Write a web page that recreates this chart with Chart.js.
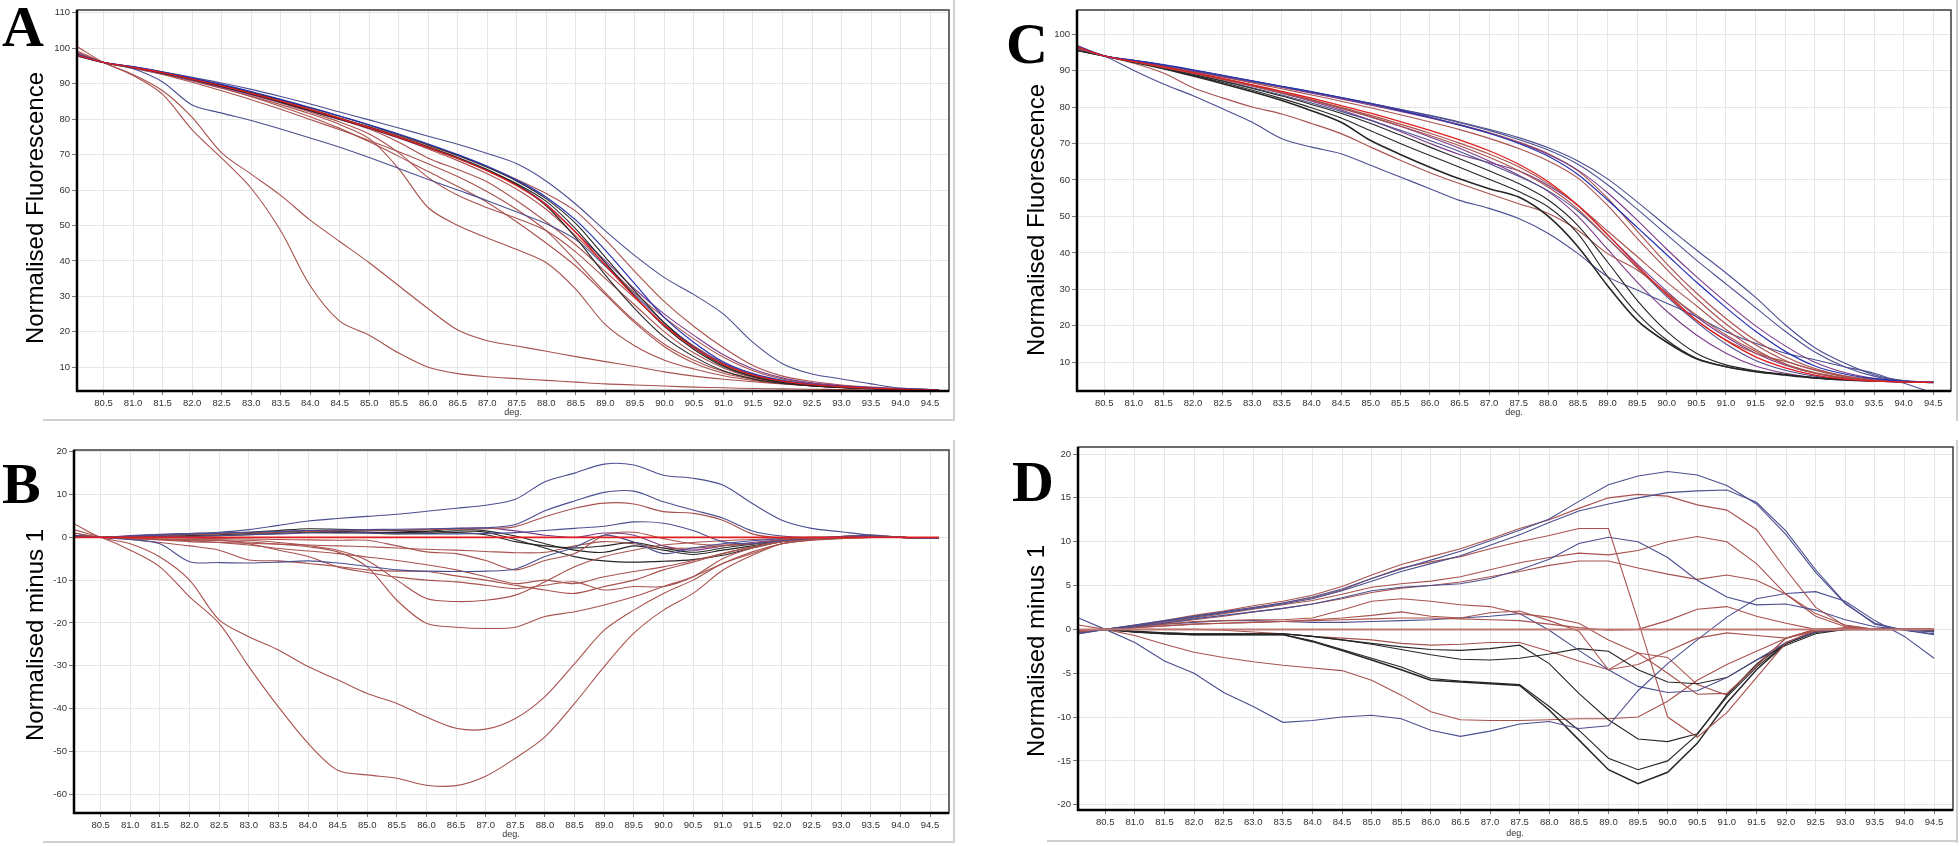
<!DOCTYPE html>
<html>
<head>
<meta charset="utf-8">
<script src="https://cdn.jsdelivr.net/npm/chart.js@4.4.1/dist/chart.umd.min.js"></script>
<style>
  body { margin: 0; background: #fff; }
  #page { position: relative; width: 1960px; height: 846px; overflow: hidden; background: #fff; }
  .box { position: absolute; }
  .letter { position: absolute; font: bold 58px "Liberation Serif", "Times New Roman", serif; line-height: 58px; color: #000; }
  .ytitle { position: absolute; width: 400px; height: 30px; line-height: 30px; text-align: center;
            font: 24px "Liberation Sans", Arial, sans-serif; color: #000; transform: rotate(-90deg); white-space: nowrap; }
  .deg { position: absolute; width: 60px; text-align: center; font: 9px "Liberation Sans", Arial, sans-serif; color: #333; }
  .rule { position: absolute; background: #d0d0d0; }
</style>
</head>
<body>
<div id="page">
  <div class="box" style="left:0;top:0"><canvas id="cA" width="960" height="423"></canvas></div>
  <div class="box" style="left:0;top:423px"><canvas id="cB" width="960" height="423"></canvas></div>
  <div class="box" style="left:960px;top:0"><canvas id="cC" width="1000" height="423"></canvas></div>
  <div class="box" style="left:960px;top:423px"><canvas id="cD" width="1000" height="423"></canvas></div>

  <div class="rule" style="left:953px;top:0;width:2px;height:421px"></div>
  <div class="rule" style="left:43px;top:419px;width:912px;height:2px"></div>
  <div class="rule" style="left:953px;top:440px;width:2px;height:403px"></div>
  <div class="rule" style="left:43px;top:841px;width:912px;height:2px"></div>
  <div class="rule" style="left:1956px;top:0;width:2px;height:421px"></div>
  <div class="rule" style="left:1956px;top:440px;width:2px;height:403px"></div>
  <div class="rule" style="left:1047px;top:840px;width:911px;height:2px"></div>

  <div class="letter" style="left:2px;top:-2px">A</div>
  <div class="letter" style="left:2px;top:455px">B</div>
  <div class="letter" style="left:1006px;top:15px">C</div>
  <div class="letter" style="left:1012px;top:453px">D</div>

  <div class="ytitle" style="left:-164px;top:193px">Normalised Fluorescence</div>
  <div class="ytitle" style="left:-164px;top:620px">Normalised minus 1</div>
  <div class="ytitle" style="left:837px;top:205px">Normalised Fluorescence</div>
  <div class="ytitle" style="left:837px;top:636px">Normalised minus 1</div>

  <div class="deg" style="left:483px;top:407px">deg.</div>
  <div class="deg" style="left:481px;top:829px">deg.</div>
  <div class="deg" style="left:1484px;top:407px">deg.</div>
  <div class="deg" style="left:1485px;top:828px">deg.</div>
</div>

<script>
// ---------- x positions (deg.) and tick labels ----------
const degAB = [80.05, 80.5, 81, 81.5, 82, 82.5, 83, 83.5, 84, 84.5, 85, 85.5, 86, 86.5, 87, 87.5,
               88, 88.5, 89, 89.5, 90, 90.5, 91, 91.5, 92, 92.5, 93, 93.5, 94, 94.5, 94.65];
const degCD = [80.05, 80.5, 81, 81.5, 82, 82.5, 83, 83.5, 84, 84.5, 85, 85.5, 86, 86.5, 87, 87.5,
               88, 88.5, 89, 89.5, 90, 90.5, 91, 91.5, 92, 92.5, 93, 93.5, 94, 94.5];
const degTicks = [80.5, 81, 81.5, 82, 82.5, 83, 83.5, 84, 84.5, 85, 85.5, 86, 86.5, 87, 87.5,
                  88, 88.5, 89, 89.5, 90, 90.5, 91, 91.5, 92, 92.5, 93, 93.5, 94, 94.5];
const ticksA = [10, 20, 30, 40, 50, 60, 70, 80, 90, 100, 110];
const ticksB = [-60, -50, -40, -30, -20, -10, 0, 10, 20];
const ticksC = [10, 20, 30, 40, 50, 60, 70, 80, 90, 100];
const ticksD = [-20, -15, -10, -5, 0, 5, 10, 15, 20];

// ---------- panel A : normalised fluorescence ----------
const A_navyTop  = [98.3, 96, 94.8, 93.4, 91.8, 90.2, 88.4, 86.4, 84.3, 82, 79.8, 77.5, 75.2, 72.9, 70.3, 67.4, 62.5, 56, 48.5, 41.5, 35.3, 30.5, 25, 17, 11, 8.1, 6.7, 5.3, 4.1, 3.7, 3.7];
const A_black1   = [98, 96, 94.7, 93.2, 91.5, 89.6, 87.6, 85.5, 83.2, 80.8, 78.3, 75.6, 72.8, 69.8, 66.4, 62.5, 57.5, 50.5, 41, 31.5, 22.5, 15.5, 10.5, 7.5, 5.8, 4.9, 4.4, 4, 3.8, 3.6, 3.6];
const A_black2   = [98.2, 96, 94.6, 93.1, 91.3, 89.3, 87.2, 85, 82.6, 80.2, 77.7, 75, 72.2, 69.2, 65.8, 61.5, 55.5, 46.5, 36, 26.5, 18.5, 13, 9, 6.7, 5.4, 4.7, 4.2, 3.9, 3.7, 3.6, 3.6];
const A_black3   = [97.8, 96, 94.6, 93, 91.2, 89.2, 87.1, 84.8, 82.4, 80, 77.5, 74.8, 72, 69, 65.6, 61.8, 56.8, 49, 39.5, 30, 21.5, 15, 10.2, 7.3, 5.7, 4.8, 4.3, 4, 3.8, 3.6, 3.6];
const A_blue     = [98, 96, 94.8, 93.3, 91.6, 89.8, 87.8, 85.6, 83.3, 80.9, 78.4, 75.8, 73, 70, 66.7, 62.8, 58, 51.5, 43, 33.5, 24, 17, 11.5, 8.2, 6.3, 5.2, 4.6, 4.2, 3.9, 3.7, 3.7];
const A_purple   = [98.5, 96, 94.5, 92.9, 91, 89, 86.9, 84.7, 82.3, 79.9, 77.4, 74.7, 71.9, 68.9, 65.5, 61.5, 56, 48, 40, 32, 25, 19, 13.5, 9.5, 7, 5.6, 4.8, 4.3, 3.9, 3.7, 3.7];
const A_red1     = [98.8, 96, 94.5, 92.9, 91.1, 89.2, 87.2, 85, 82.7, 80.3, 77.9, 75.3, 72.6, 69.7, 66.5, 63, 59, 54, 46, 37, 28.5, 21.5, 15.5, 10.5, 7.5, 6, 5, 4.4, 4, 3.7, 3.7];
const A_navyDip  = [98, 96, 94.2, 90.5, 84, 81.7, 79.6, 77.2, 74.7, 72.1, 69.2, 66.1, 63, 60, 57, 53.8, 50.5, 46, 38.5, 30.5, 22.5, 15.8, 11, 7.8, 6, 5, 4.4, 4, 3.8, 3.6, 3.6];
const A_red2     = [98.5, 96, 94.5, 92.9, 91.1, 89.1, 87, 84.6, 82, 79.2, 75.8, 70.5, 63.5, 58.5, 55, 52, 48.5, 42.5, 35, 27.5, 20, 14, 9.8, 7.1, 5.6, 4.8, 4.3, 4, 3.8, 3.6, 3.6];
const A_red3     = [98.6, 96, 94.4, 92.7, 90.8, 88.7, 86.5, 84.1, 81.5, 78.5, 74.5, 66, 55, 50, 46.5, 43.2, 39.5, 32, 22, 16, 12, 9.5, 7.6, 6.3, 5.4, 4.7, 4.3, 4, 3.8, 3.6, 3.6];
const A_red4     = [100.5, 96, 92.6, 88, 80.5, 70.5, 64.5, 58.5, 51.5, 45.5, 39.5, 33, 26.5, 20.5, 17.5, 16, 14.5, 13, 11.6, 10.2, 8.7, 7.5, 6.6, 5.9, 5.3, 4.8, 4.4, 4.1, 3.8, 3.6, 3.6];
const A_red5     = [99.2, 96, 92.3, 87, 77, 69, 60.5, 48.5, 33, 23, 19, 14, 10, 8.2, 7.3, 6.8, 6.3, 5.8, 5.3, 5, 4.7, 4.4, 4.2, 4, 3.9, 3.8, 3.7, 3.6, 3.6, 3.5, 3.5];
const A_red6     = [98.4, 96, 94.4, 92.6, 90.4, 88, 85.5, 82.8, 79.9, 77, 74, 70.8, 67.4, 63.8, 59.5, 54.5, 48.5, 40, 31, 23, 16.5, 12, 8.8, 6.8, 5.6, 4.8, 4.3, 4, 3.8, 3.6, 3.6];
const A_red7     = [98.2, 96, 94.6, 92.9, 91, 88.8, 86.3, 83.6, 80.7, 77.4, 73.6, 69.5, 65.2, 61, 56.5, 51, 45, 38.5, 30.5, 22.5, 15.8, 11.2, 8.3, 6.6, 5.5, 4.8, 4.3, 4, 3.8, 3.6, 3.6];
const A_red8     = [98.6, 96, 94.6, 93, 91.2, 89.2, 87.1, 84.8, 82.4, 79.9, 77.2, 73.5, 69, 65.8, 62.3, 57, 51, 44.5, 37, 29.5, 22, 16, 11.2, 8, 6.2, 5.2, 4.5, 4.1, 3.8, 3.6, 3.6];
const A_brightRd = [98, 96, 94.6, 93.1, 91.3, 89.4, 87.3, 85.1, 82.7, 80.2, 77.6, 74.9, 72, 68.9, 65.4, 61.2, 55.8, 48, 38.8, 29.8, 21.8, 15.5, 10.8, 7.8, 6.1, 5.1, 4.5, 4.1, 3.8, 3.6, 3.6];
const A_red9     = [98.3, 96, 94.7, 93.2, 91.5, 89.6, 87.5, 85.3, 82.9, 80.3, 77.6, 74.7, 71.6, 68.3, 64.6, 60.2, 54.5, 47, 39, 31, 24, 18, 12.8, 9, 6.7, 5.4, 4.7, 4.2, 3.9, 3.7, 3.7];

// ---------- panel B : normalised minus 1 ----------
const B_navyTop  = [0.3, 0, 0.3, 0.6, 0.9, 1.2, 1.8, 2.8, 3.8, 4.4, 4.9, 5.4, 6.1, 6.8, 7.5, 8.9, 13, 15, 17.1, 16.9, 14.5, 13.8, 12.2, 7.9, 4, 2.1, 1.3, 0.5, 0, -0.2, -0.2];
const B_navy11   = [0.2, 0, 0.2, 0.5, 0.8, 1, 1.2, 1.4, 1.6, 1.7, 1.8, 1.9, 2, 2.1, 2.2, 3, 6.2, 8.5, 10.5, 10.8, 8.3, 6.4, 4.5, 1.5, 0.3, 0, 0.2, 0.5, 0, -0.2, -0.2];
const B_red8     = [0.2, 0, 0.2, 0.4, 0.6, 0.8, 1, 1.2, 1.4, 1.5, 1.6, 1.7, 1.8, 1.9, 2, 2.5, 4.8, 6.8, 8, 7.8, 6, 5.6, 4, 0.8, -0.2, -0.3, 0.2, 0.6, 0, -0.2, -0.2];
const B_navy3    = [0.2, 0, 0, 0.1, 0.2, 0.4, 0.6, 0.8, 1, 1, 1, 0.9, 0.8, 0.8, 0.9, 1.1, 1.6, 2.1, 2.6, 3.6, 3.3, 1.6, -1, -1.5, -0.8, -0.3, 0, 0.3, 0, -0.2, -0.2];
const B_navyDip  = [0.5, 0, -0.5, -1.5, -5.7, -5.9, -6, -5.8, -5.5, -6, -6.8, -7.6, -7.9, -8, -7.9, -7.4, -4.5, -2.3, 0.5, -1.1, -3.8, -2.5, -1.5, -0.8, -0.3, 0, 0, 0.3, 0, -0.2, -0.2];
const B_red15    = [1, 0, -0.2, -0.4, -0.5, -0.6, -0.7, -1.2, -1.9, -3, -5.4, -10, -14.3, -15, -14.7, -13.5, -10.4, -6.9, -4.5, -3, -1.8, -1.2, -0.8, -0.5, -0.3, -0.1, 0, 0.2, 0, -0.2, -0.2];
const B_red21    = [1, 0, -0.2, -0.4, -0.6, -0.8, -1.1, -1.6, -2.2, -3.4, -6.9, -14.7, -20.1, -21, -21.3, -21, -18.5, -17.4, -15.8, -13.9, -11.5, -9.2, -6.1, -3.4, -1.5, -0.7, -0.3, 0, 0, -0.2, -0.2];
const B_red45    = [3.2, 0, -1.5, -4.6, -10, -19.3, -23.2, -26.3, -30.2, -33.3, -36.5, -38.8, -42, -44.6, -44.8, -42.3, -37.2, -29.5, -21.7, -17, -13.1, -10, -6.1, -3.8, -1.5, -0.6, -0.2, 0, 0, -0.2, -0.2];
const B_red58    = [1.8, 0, -3, -6.9, -13.9, -20.1, -30.2, -39.6, -48.1, -54.4, -55.5, -56.3, -57.9, -58, -55.8, -51.6, -46.6, -38.8, -30.2, -22.4, -17, -13.1, -7.7, -4.2, -1.5, -0.6, -0.2, 0, 0, -0.2, -0.2];
const B_red13a   = [0.5, 0, -0.5, -1.2, -2, -3, -5.3, -5.5, -6.1, -6.8, -7.6, -7.9, -8, -9, -10, -11.2, -12.3, -13.1, -11.5, -10, -7.6, -5.8, -3.8, -2.3, -1, -0.4, 0, 0.2, 0, -0.2, -0.2];
const B_red12b   = [0.5, 0, -0.3, -0.5, -0.6, -0.7, -1.5, -3, -4.5, -6.9, -8.2, -9.3, -10, -10.4, -11.2, -12, -11.2, -10.4, -12.3, -11.5, -11.5, -9.2, -5, -2.5, -1, -0.4, 0, 0.2, 0, -0.2, -0.2];
const B_red11c   = [0.5, 0, -0.3, -0.5, -0.8, -1.2, -1.8, -2.6, -3.2, -3.8, -4.6, -5.4, -6.4, -7.6, -9.2, -10.8, -10, -10.8, -9.2, -8, -6.9, -5.4, -3.8, -2.2, -1, -0.4, 0, 0.2, 0, -0.2, -0.2];
const B_red8d    = [0.5, 0, 0, -0.1, -0.2, -0.3, -0.4, -0.5, -0.6, -0.7, -0.7, -2, -3.4, -3.8, -5.4, -7.6, -5.4, -3.8, 0.5, 1.2, -0.3, -1.5, -1.8, -1.5, -0.6, -0.2, 0, 0.2, 0, -0.2, -0.2];
const B_black1   = [0.2, 0, 0.2, 0.4, 0.6, 0.9, 1.2, 1.6, 2, 1.9, 1.7, 1.5, 1.4, 2, 1.5, 0.3, -1.5, -3, -3.5, -2, -3, -4, -3, -2, -0.8, -0.3, 0, 0.3, 0, -0.2, -0.2];
const B_black2   = [0.2, 0, 0.1, 0.2, 0.4, 0.6, 0.9, 1.2, 1.5, 1.4, 1.2, 1.1, 1.2, 1.5, 1.2, -0.5, -2.5, -4.5, -5.5, -5.8, -5.6, -5.2, -4.2, -2.5, -1, -0.4, 0, 0.3, 0, -0.2, -0.2];
const B_black3   = [0.2, 0, 0, 0, 0.2, 0.4, 0.6, 0.9, 1.2, 1.1, 1, 0.8, 0.9, 1.1, 0.6, -1, -2, -2.5, -2, -1.2, -2.5, -3.5, -2.5, -1.6, -0.7, -0.3, 0, 0.3, 0, -0.2, -0.2];
const B_refZero  = [0, 0, 0, 0, 0, 0, 0, 0, 0, 0, 0, 0, 0, 0, 0, 0, 0, 0, 0, 0, 0, 0, 0, 0, 0, 0, 0, 0, 0, 0, 0];
const B_red3     = [0.3, 0, -0.3, -0.6, -1, -1.2, -1.4, -1.6, -1.8, -2, -2.2, -2.5, -2.8, -3, -3.3, -3.6, -3.5, -2, -1, -1.5, -2.5, -2.5, -2, -1.5, -0.7, -0.3, 0, 0.2, 0, -0.2, -0.2];
const B_purple   = [0.5, 0, 0.4, 0.7, 0.9, 1, 1.1, 1.3, 1.5, 1.5, 1.5, 1.6, 1.8, 2.1, 2.2, 1.5, 0.5, 0, 1, 0.5, -2, -3, -2, -1.2, -0.6, -0.2, 0, 0.3, 0, -0.2, -0.2];

// ---------- panel C : normalised fluorescence ----------
const C_navy1   = [96.5, 94, 92.8, 91.5, 90.1, 88.6, 87.1, 85.6, 84.1, 82.6, 81, 79.4, 77.7, 75.9, 73.9, 71.6, 68.8, 65.2, 60.3, 54, 47.3, 40.8, 34.5, 27.8, 20.3, 14, 9.8, 6.6, 5, 4.5];
const C_navy2   = [96.5, 94, 92.8, 91.5, 90.1, 88.6, 87.1, 85.6, 84.1, 82.6, 81, 79.3, 77.6, 75.7, 73.6, 71.1, 68.2, 64.3, 58.7, 52, 45, 38, 31.5, 25, 18.5, 12.8, 8.8, 6.2, 4.9, 4.5];
const C_purple1 = [96.3, 94, 92.7, 91.3, 89.9, 88.4, 86.9, 85.4, 83.8, 82.2, 80.5, 78.8, 77, 75, 72.8, 70.2, 67, 62.7, 56.5, 49, 41, 33.5, 26.5, 20, 14.5, 10, 7.2, 5.6, 4.8, 4.5];
const C_red1    = [96.4, 94, 92.7, 91.3, 89.9, 88.4, 86.9, 85.4, 83.9, 82.3, 80.7, 79, 77.2, 75.2, 73, 70.4, 67.2, 62.5, 55, 46, 37, 29, 22, 16, 11.5, 8.3, 6.3, 5.3, 4.8, 4.5];
const C_red2    = [96.2, 94, 92.6, 91.2, 89.7, 88.2, 86.6, 85, 83.3, 81.6, 79.8, 77.9, 75.9, 73.8, 71.4, 68.6, 65.2, 60.5, 53, 44, 35.5, 27.5, 20.5, 14.8, 10.5, 7.8, 6, 5.1, 4.7, 4.5];
const C_bright  = [96.5, 94, 92.5, 91, 89.4, 87.8, 86.1, 84.3, 82.4, 80.4, 78.3, 76, 73.6, 71, 68, 64.3, 59.5, 53, 45, 36.5, 28.5, 21.5, 16, 11.5, 8.5, 6.5, 5.4, 4.9, 4.6, 4.5];
const C_red3    = [96, 94, 92.4, 90.8, 89.2, 87.5, 85.7, 83.8, 81.8, 79.6, 77.3, 74.8, 72.2, 69.4, 66.2, 62.5, 58, 52, 44, 36, 29, 23, 17.5, 13, 9.5, 7.2, 5.8, 5, 4.7, 4.5];
const C_red4    = [96.5, 94, 92.5, 91, 89.4, 87.7, 85.9, 84, 82, 79.9, 77.7, 75.3, 72.8, 70.1, 67.1, 63.6, 59, 53, 46, 39, 32, 25.5, 19, 13.5, 9.5, 7, 5.6, 4.9, 4.6, 4.5];
const C_black1  = [95.5, 94, 92.3, 90.5, 88.5, 86.4, 84.2, 81.8, 79, 75.8, 70.8, 67, 63.5, 60.3, 57.6, 55.3, 50, 41.7, 31, 21.5, 15.5, 11, 8.8, 7.4, 6.5, 5.7, 5.2, 4.9, 4.7, 4.5];
const C_black2  = [95.5, 94, 92.3, 90.6, 88.7, 86.7, 84.6, 82.3, 79.8, 77, 73.5, 70, 66.7, 63.5, 60.2, 56.8, 52.6, 45.3, 33.5, 23.4, 16.1, 11.1, 8.8, 7.5, 6.6, 5.7, 5.3, 4.9, 4.7, 4.5];
const C_black3  = [95.5, 94, 92.4, 90.8, 89, 87.1, 85.1, 83, 80.7, 78.3, 75.5, 72.3, 69, 65.8, 62.5, 59, 54.5, 47.5, 37.5, 27, 18.5, 12.5, 9.3, 7.7, 6.7, 5.8, 5.3, 4.9, 4.7, 4.5];
const C_navyLow = [96, 94, 90, 86.3, 83.1, 79.5, 75.8, 71.3, 69, 67.2, 64, 60.8, 57.6, 54.4, 52.2, 49.4, 45.3, 39.8, 33.5, 29.8, 26.2, 22.5, 18.4, 15.2, 12.5, 10.7, 8.8, 7, 4.3, 1.6];
const C_redLow  = [96.5, 94, 92, 89.3, 85.3, 82.5, 80, 78.1, 75.5, 72.7, 69, 65.4, 62, 59, 56.2, 53.5, 50.8, 46.2, 39.8, 35.3, 28.9, 21.6, 16.1, 12.5, 10.2, 8, 6.2, 5.2, 4.8, 4.5];
const C_navy3   = [96, 94, 92.4, 90.8, 89, 87.2, 85.3, 83.3, 81.1, 78.8, 76.3, 73.6, 70.8, 67.8, 64.5, 61, 57, 51.5, 44, 36, 28, 21, 15, 10.5, 7.8, 6.2, 5.3, 4.9, 4.6, 4.5];
const C_blue    = [96.8, 94, 92.8, 91.6, 90.2, 88.7, 87.2, 85.7, 84.2, 82.6, 80.9, 79.1, 77.2, 75.1, 72.8, 70, 66.5, 61.5, 54.5, 47, 39.5, 32, 25, 18.5, 13, 9, 6.8, 5.5, 4.8, 4.4];
const C_purple2 = [96, 94, 92.6, 91.1, 89.5, 87.8, 86, 84, 81.9, 79.7, 77.3, 74.7, 71.8, 68.7, 65.2, 61.3, 56.8, 50, 41, 32, 24, 17.5, 12.5, 9, 7, 5.8, 5.1, 4.8, 4.6, 4.5];
const C_purple3 = [96.3, 94, 92.5, 91, 89.3, 87.6, 85.8, 83.8, 81.6, 79.2, 76.4, 73.3, 70, 67, 64.8, 62.5, 58.5, 53, 45, 37, 29.5, 22.5, 17, 12.5, 9.2, 7, 5.7, 5, 4.6, 4.5];

// ---------- panel D : normalised minus 1 ----------
const D_navy18  = [-0.5, 0, 0.5, 1, 1.5, 2, 2.5, 3, 3.7, 4.6, 5.8, 6.9, 7.9, 8.9, 10.1, 11.3, 12.6, 14.6, 16.5, 17.5, 18, 17.6, 16.4, 14.3, 10.8, 6.5, 2.9, 0.7, -0.1, -0.6];
const D_navy16  = [-0.5, 0, 0.4, 0.9, 1.4, 1.9, 2.4, 2.9, 3.5, 4.4, 5.5, 6.6, 7.5, 8.4, 9.6, 10.8, 12.2, 13.5, 14.3, 15, 15.6, 15.8, 15.9, 14.5, 11.2, 6.8, 3, 0.6, -0.1, -0.5];
const D_red15   = [-0.3, 0, 0.5, 1, 1.6, 2.1, 2.7, 3.2, 3.9, 4.9, 6.2, 7.4, 8.3, 9.2, 10.3, 11.5, 12.5, 13.8, 15, 15.4, 15.2, 14.2, 13.6, 11.4, 6.8, 2.5, 0.4, 0, 0, 0];
const D_redDrop = [-0.3, 0, 0.4, 0.9, 1.5, 2, 2.5, 3, 3.6, 4.5, 5.8, 7, 7.7, 8.3, 9.2, 10, 10.7, 11.5, 11.5, 1, -10, -12.3, -9.5, -5.5, -1.5, -0.1, 0.2, 0, 0, 0];
const D_navy10  = [-0.3, 0, 0.3, 0.7, 1.2, 1.6, 2, 2.4, 2.9, 3.6, 4.4, 4.8, 5, 5.2, 5.8, 6.8, 8, 9.8, 10.5, 10, 8.2, 5.6, 3.7, 2.8, 2.9, 2.2, 1.1, 0.3, 0, -0.3];
const D_red10   = [-0.3, 0, 0.4, 0.8, 1.3, 1.8, 2.3, 2.8, 3.3, 4, 4.8, 5.2, 5.5, 6, 6.8, 7.6, 8.2, 8.7, 8.5, 9, 10, 10.6, 10, 7.5, 4, 1.5, 0.3, 0, 0, 0];
const D_red8    = [-0.3, 0, 0.3, 0.7, 1.1, 1.5, 2, 2.4, 2.9, 3.5, 4.2, 4.7, 5, 5.4, 6, 6.6, 7.3, 7.8, 7.8, 7, 6.3, 5.7, 6.2, 5.6, 4, 1.8, 0.5, 0, 0, 0];
const D_red3    = [-0.3, 0, 0.3, 0.6, 0.9, 1, 1.1, 1.1, 1.3, 2.2, 3.2, 3.5, 3.2, 2.8, 2.6, 1.8, 1.4, 0.7, -1.2, -2.7, -5, -7.4, -7.3, -4.2, -1, 0, 0.1, 0, 0, 0];
const D_red2    = [-0.3, 0, 0.2, 0.4, 0.6, 0.7, 0.8, 0.9, 1.1, 1.3, 1.6, 2, 1.5, 1.3, 1.9, 2.1, 1, -0.2, -4.6, -4, -2.5, -1, -0.4, -0.7, -1, -0.2, 0, 0, 0, 0];
const D_red1    = [-0.2, 0, 0.2, 0.4, 0.6, 0.7, 0.8, 0.9, 1, 1.1, 1.2, 1.3, 1.3, 1.2, 1.1, 1, 0.6, 0.2, -0.1, 0, 1, 2.3, 2.6, 1.5, 0.7, 0, 0, 0, 0, 0];
const D_navyLow = [1.3, 0, -1.5, -3.6, -5, -7.2, -8.8, -10.6, -10.4, -10, -9.8, -10.2, -11.5, -12.2, -11.6, -10.8, -10.5, -11.3, -11, -7, -3.9, -1.2, 1.4, 3.5, 4.1, 4.3, 3.2, 1, -0.8, -3.3];
const D_navy7   = [-0.4, 0, 0.3, 0.6, 0.8, 1, 1, 0.9, 0.8, 0.8, 0.9, 1, 1.1, 1.3, 1.5, 1.8, -0.1, -2.4, -4.6, -6.5, -7.2, -7, -5.5, -3.5, -1.5, -0.3, 0, 0, 0, -0.3];
const D_black1  = [-0.2, 0, -0.3, -0.4, -0.5, -0.5, -0.5, -0.5, -0.8, -1.2, -1.7, -2.3, -2.9, -3.4, -3.5, -3.3, -2.8, -2.2, -2.5, -4.6, -6, -6.2, -5.5, -3.5, -1.8, -0.5, 0, 0, 0, -0.2];
const D_black2  = [-0.3, 0, -0.3, -0.5, -0.6, -0.6, -0.6, -0.6, -1.4, -2.4, -3.5, -4.6, -5.8, -6, -6.2, -6.4, -9.2, -12.6, -16, -17.6, -16.3, -13, -8.4, -4.6, -1.6, -0.3, 0, 0, 0, -0.2];
const D_black3  = [-0.3, 0, -0.3, -0.5, -0.6, -0.6, -0.6, -0.6, -1.3, -2.3, -3.3, -4.3, -5.6, -5.9, -6.1, -6.3, -8.8, -11.5, -14.7, -16, -15, -12, -7.5, -4, -1.5, -0.3, 0, 0, 0, -0.2];
const D_black4  = [-0.2, 0, -0.2, -0.4, -0.5, -0.5, -0.5, -0.5, -0.8, -1.2, -1.6, -2, -2.3, -2.4, -2.2, -1.8, -3.9, -7.3, -10.3, -12.5, -12.8, -11.9, -7.7, -4.3, -1.6, -0.3, 0, 0, 0, -0.2];
const D_redFlat = [0.5, 0, -0.7, -1.7, -2.6, -3.2, -3.7, -4.1, -4.4, -4.7, -5.8, -7.5, -9.4, -10.3, -10.4, -10.4, -10.3, -10.2, -10.2, -10, -8.2, -5.8, -4, -2.5, -1, 0, 0, 0, 0, 0];
const D_refZero = [0, 0, 0, 0, 0, 0, 0, 0, 0, 0, 0, 0, 0, 0, 0, 0, 0, 0, 0, 0, 0, 0, 0, 0, 0, 0, 0, 0, 0, 0];
const D_red5    = [-0.3, 0, 0, 0, 0, -0.1, -0.3, -0.5, -0.8, -1, -1.2, -1.6, -1.8, -1.7, -1.5, -1.5, -2.5, -3.6, -4.6, -2.7, -3.2, -6.3, -7.5, -4, -1, 0, 0, 0, 0, 0];
//============================================================================

const BROWN = '#a8524e', NAVY = '#4b4f90', BLACK = '#262626', PURPLE = '#7c3b88',
      RED = '#e01e1e', BLUE = '#2631b0', PALE = '#c07a76';

function line(xs, ys, color, width) {
    return {
        data: ys.map((y, i) => ({ x: xs[i], y: y })),
        borderColor: color,
        borderWidth: width || 1.1,
        pointRadius: 0,
        fill: false
    };
}

// plot frame: thin dark top/right, heavy black left/bottom
const frame = {
    id: 'frame',
    afterDraw(chart) {
        const { ctx, chartArea: a } = chart;
        ctx.save();
        ctx.strokeStyle = '#3a3a3a';
        ctx.lineWidth = 1.5;
        ctx.strokeRect(a.left, a.top, a.right - a.left, a.bottom - a.top);
        ctx.strokeStyle = '#000';
        ctx.lineWidth = 2.5;
        ctx.beginPath();
        ctx.moveTo(a.left, a.top);
        ctx.lineTo(a.left, a.bottom);
        ctx.lineTo(a.right, a.bottom);
        ctx.stroke();
        ctx.restore();
    }
};

function makeChart(id, datasets, o) {
    const tickFont = { family: 'Liberation Sans, Arial', size: 9.5 };
    return new Chart(document.getElementById(id).getContext('2d'), {
        type: 'line',
        data: { datasets: datasets },
        options: {
            responsive: false,
            animation: false,
            devicePixelRatio: 1,
            layout: { padding: o.pad, autoPadding: false },
            elements: { line: { tension: o.tension } },
            plugins: { legend: { display: false }, tooltip: { enabled: false } },
            scales: {
                x: {
                    type: 'linear', min: o.xMin, max: o.xMax,
                    afterBuildTicks: s => { s.ticks = degTicks.map(v => ({ value: v })); },
                    afterFit: s => { s.height = o.xHeight; },
                    ticks: { callback: v => v.toFixed(1), font: tickFont, color: '#333',
                             maxRotation: 0, autoSkip: false, padding: 3 },
                    grid: { color: '#e6e6e6', tickColor: '#777', tickLength: 4 },
                    border: { display: false }
                },
                y: {
                    type: 'linear', min: o.yMin, max: o.yMax,
                    afterBuildTicks: s => { s.ticks = o.yTicks.map(v => ({ value: v })); },
                    afterFit: s => { s.width = o.yWidth; },
                    ticks: { callback: v => v, font: tickFont, color: '#333', padding: 2 },
                    grid: { color: '#e6e6e6', tickColor: '#777', tickLength: 5 },
                    border: { display: false }
                }
            }
        },
        plugins: [frame]
    });
}

makeChart('cA', [
    line(degAB, A_brightRd, RED, 1.3),
    line(degAB, A_blue, BLUE, 1.2),
    line(degAB, A_navyTop, NAVY),
    line(degAB, A_black1, BLACK),
    line(degAB, A_black2, BLACK),
    line(degAB, A_black3, BLACK),
    line(degAB, A_purple, PURPLE),
    line(degAB, A_red1, BROWN),
    line(degAB, A_navyDip, NAVY),
    line(degAB, A_red2, BROWN),
    line(degAB, A_red3, BROWN),
    line(degAB, A_red4, BROWN),
    line(degAB, A_red5, BROWN),
    line(degAB, A_red6, BROWN),
    line(degAB, A_red7, BROWN),
    line(degAB, A_red8, BROWN),
    line(degAB, A_red9, BROWN)
], { xMin: 80.05, xMax: 94.82, yMin: 3.3, yMax: 110.8, yTicks: ticksA,
     yWidth: 77, xHeight: 32, pad: { top: 10, right: 11, left: 0, bottom: 0 }, tension: 0.3 });

makeChart('cB', [
    line(degAB, B_refZero, RED, 1.6),
    line(degAB, B_navyTop, NAVY),
    line(degAB, B_navy11, NAVY),
    line(degAB, B_red8, BROWN),
    line(degAB, B_navy3, NAVY),
    line(degAB, B_navyDip, NAVY),
    line(degAB, B_red15, BROWN),
    line(degAB, B_red21, BROWN),
    line(degAB, B_red45, BROWN),
    line(degAB, B_red58, BROWN),
    line(degAB, B_red13a, BROWN),
    line(degAB, B_red12b, BROWN),
    line(degAB, B_red11c, BROWN),
    line(degAB, B_red8d, BROWN),
    line(degAB, B_black1, BLACK),
    line(degAB, B_black2, BLACK),
    line(degAB, B_black3, BLACK),
    line(degAB, B_red3, BROWN),
    line(degAB, B_purple, PURPLE)
], { xMin: 80.05, xMax: 94.82, yMin: -64.4, yMax: 20.4, yTicks: ticksB,
     yWidth: 74, xHeight: 33, pad: { top: 27, right: 11, left: 0, bottom: 0 }, tension: 0.3 });

makeChart('cC', [
    line(degCD, C_bright, RED, 1.3),
    line(degCD, C_blue, BLUE, 1.2),
    line(degCD, C_navy1, NAVY),
    line(degCD, C_navy2, NAVY),
    line(degCD, C_purple1, PURPLE),
    line(degCD, C_red1, BROWN),
    line(degCD, C_red2, BROWN),
    line(degCD, C_red3, BROWN),
    line(degCD, C_red4, BROWN),
    line(degCD, C_black1, BLACK, 1.6),
    line(degCD, C_black2, BLACK),
    line(degCD, C_black3, BLACK),
    line(degCD, C_navyLow, NAVY),
    line(degCD, C_redLow, BROWN),
    line(degCD, C_navy3, NAVY),
    line(degCD, C_purple2, PURPLE),
    line(degCD, C_purple3, PURPLE)
], { xMin: 80.04, xMax: 94.8, yMin: 2.13, yMax: 106.6, yTicks: ticksC,
     yWidth: 117, xHeight: 32, pad: { top: 10, right: 9, left: 0, bottom: 0 }, tension: 0.3 });

makeChart('cD', [
    line(degCD, D_refZero, PALE, 2),
    line(degCD, D_navy18, NAVY),
    line(degCD, D_navy16, NAVY),
    line(degCD, D_red15, BROWN),
    line(degCD, D_redDrop, BROWN),
    line(degCD, D_navy10, NAVY),
    line(degCD, D_red10, BROWN),
    line(degCD, D_red8, BROWN),
    line(degCD, D_red3, BROWN),
    line(degCD, D_red2, BROWN),
    line(degCD, D_red1, BROWN),
    line(degCD, D_navyLow, NAVY),
    line(degCD, D_navy7, NAVY),
    line(degCD, D_black1, BLACK),
    line(degCD, D_black2, BLACK, 1.5),
    line(degCD, D_black3, BLACK),
    line(degCD, D_black4, BLACK),
    line(degCD, D_redFlat, BROWN),
    line(degCD, D_red5, BROWN)
], { xMin: 80.04, xMax: 94.82, yMin: -20.6, yMax: 20.8, yTicks: ticksD,
     yWidth: 118, xHeight: 36, pad: { top: 24, right: 7, left: 0, bottom: 0 }, tension: 0 });
</script>
</body>
</html>
